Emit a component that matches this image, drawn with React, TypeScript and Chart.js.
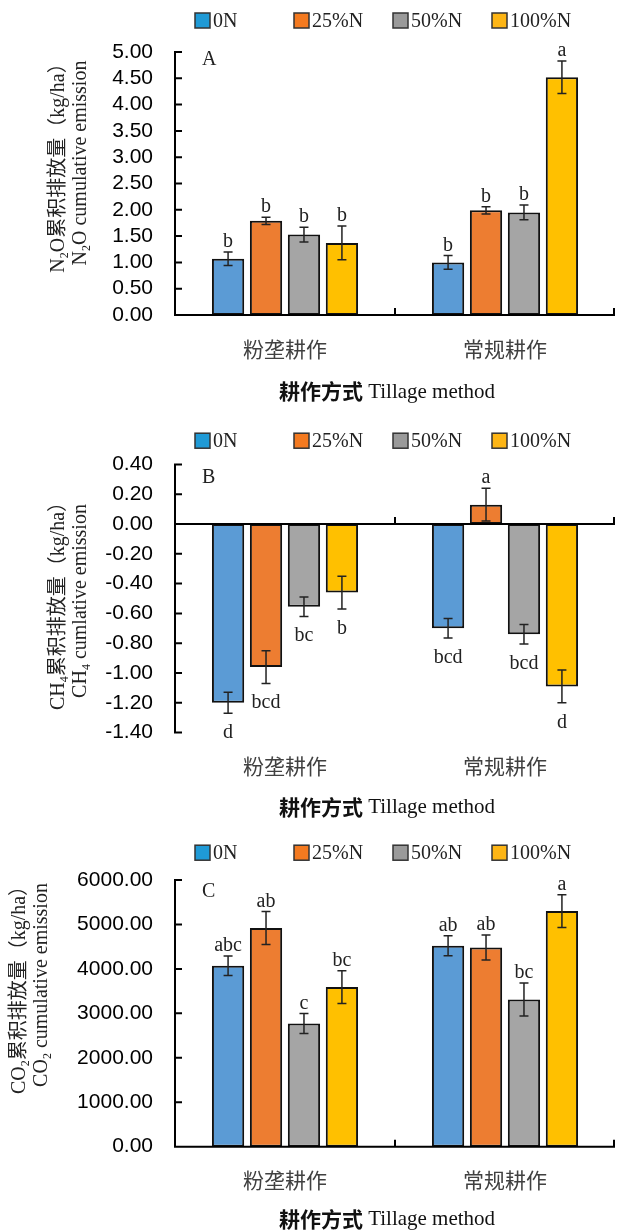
import React, { useEffect, useRef } from "react";
import { Chart, registerables } from "chart.js";

Chart.register(...registerables);

// ---------- data ----------
const categories = ["粉垄耕作", "常规耕作"];
const seriesNames = ["0N", "25%N", "50%N", "100%N"];

// rows = series (0N, 25%N, 50%N, 100%N), columns = categories
const n2oMeans = [[1.07, 1.0], [1.79, 1.99], [1.53, 1.95], [1.37, 4.52]];
const n2oErrors = [[0.13, 0.13], [0.07, 0.07], [0.14, 0.14], [0.32, 0.31]];
const n2oLetters = [["b", "b"], ["b", "b"], ["b", "b"], ["b", "a"]];
const n2oAxis = [0, 5, 0.5]; // min, max, step

const ch4Means = [[-1.2, -0.7], [-0.96, 0.13], [-0.555, -0.74], [-0.46, -1.09]];
const ch4Errors = [[0.07, 0.065], [0.11, 0.11], [0.065, 0.065], [0.11, 0.11]];
const ch4Letters = [["d", "bcd"], ["bcd", "a"], ["bc", "bcd"], ["b", "d"]];
const ch4Axis = [-1.4, 0.4, 0.2];

const co2Means = [[4070, 4520], [4920, 4480], [2770, 3310], [3590, 5300]];
const co2Errors = [[220, 225], [370, 280], [225, 370], [370, 370]];
const co2Letters = [["abc", "ab"], ["ab", "ab"], ["c", "bc"], ["bc", "a"]];
const co2Axis = [0, 6000, 1000];

const xTitleCn = "耕作方式";
const xTitleEn = " Tillage method";

// ---------- style ----------
const barColors = ["#5b9bd5", "#ed7d31", "#a5a5a5", "#ffc000"];
const legendColors = ["#1f9ad6", "#f47a20", "#9a9a9a", "#fdb515"];
const W = 617;
const H = 410;
const XH = 80;
const SERIF = "'Liberation Serif', 'Noto Sans CJK SC', serif";
const CJK = "'Noto Sans CJK SC', sans-serif";
const SANS = "'Liberation Sans', Arial, sans-serif";

type Part = { t: string; sub?: boolean };
type PanelCfg = {
  means: number[][];
  errors: number[][];
  letters: string[][];
  axis: number[];
  tag: string;
  title1: Part[];
  title2: Part[];
  plotTop: number;
  plotBottom: number;
  legendY: number;
  tagY: number;
  titleCY: number;
  titleX: [number, number];
  xTitleDy: number;
};

const panels: PanelCfg[] = [
  {
    means: n2oMeans, errors: n2oErrors, letters: n2oLetters, axis: n2oAxis, tag: "A",
    title1: [{ t: "N" }, { t: "2", sub: true }, { t: "O累积排放量（kg/ha）" }],
    title2: [{ t: "N" }, { t: "2", sub: true }, { t: "O cumulative emission" }],
    plotTop: 52, plotBottom: 315, legendY: 20.5, tagY: 60, titleCY: 163, titleX: [64, 86], xTitleDy: 76,
  },
  {
    means: ch4Means, errors: ch4Errors, letters: ch4Letters, axis: ch4Axis, tag: "B",
    title1: [{ t: "CH" }, { t: "4", sub: true }, { t: "累积排放量（kg/ha）" }],
    title2: [{ t: "CH" }, { t: "4", sub: true }, { t: " cumlative emission" }],
    plotTop: 54.4, plotBottom: 322.6, legendY: 30.7, tagY: 68, titleCY: 191, titleX: [64, 86], xTitleDy: 74,
  },
  {
    means: co2Means, errors: co2Errors, letters: co2Letters, axis: co2Axis, tag: "C",
    title1: [{ t: "CO" }, { t: "2", sub: true }, { t: "累积排放量（kg/ha）" }],
    title2: [{ t: "CO" }, { t: "2", sub: true }, { t: " cumulative emission" }],
    plotTop: 60, plotBottom: 326.7, legendY: 32.7, tagY: 72, titleCY: 165, titleX: [25, 47], xTitleDy: 72,
  },
];

function fmt(v: number) {
  const n = Math.abs(v) < 1e-9 ? 0 : v;
  return n.toFixed(2);
}

function drawParts(ctx: CanvasRenderingContext2D, parts: Part[], bx: number, cy: number) {
  const big = `20px ${SERIF}`;
  const small = `12px ${SERIF}`;
  let total = 0;
  const widths = parts.map((p) => {
    ctx.font = p.sub ? small : big;
    const w = ctx.measureText(p.t).width;
    total += w;
    return w;
  });
  ctx.save();
  ctx.translate(bx, cy);
  ctx.rotate(-Math.PI / 2);
  ctx.textBaseline = "alphabetic";
  ctx.textAlign = "left";
  ctx.fillStyle = "#222";
  let x = -total / 2;
  parts.forEach((p, i) => {
    ctx.font = p.sub ? small : big;
    ctx.fillText(p.t, x, p.sub ? 4 : 0);
    x += widths[i];
  });
  ctx.restore();
}

function overlay(cfg: PanelCfg) {
  return {
    id: "overlay" + cfg.tag,
    afterDatasetsDraw(chart: any) {
      const ctx: CanvasRenderingContext2D = chart.ctx;
      const { left, right, top, bottom } = chart.chartArea;
      const xs = chart.scales.x;
      const ys = chart.scales.y;
      ctx.save();
      // error bars + letters
      for (let d = 0; d < seriesNames.length; d++) {
        const meta = chart.getDatasetMeta(d);
        for (let i = 0; i < categories.length; i++) {
          const el = meta.data[i];
          const m = cfg.means[d][i];
          const e = cfg.errors[d][i];
          const yHi = ys.getPixelForValue(m + e);
          const yLo = ys.getPixelForValue(m - e);
          const bx = el.x;
          ctx.strokeStyle = "#222";
          ctx.lineWidth = 1.5;
          ctx.beginPath();
          ctx.moveTo(bx, yHi);
          ctx.lineTo(bx, yLo);
          ctx.moveTo(bx - 4.5, yHi);
          ctx.lineTo(bx + 4.5, yHi);
          ctx.moveTo(bx - 4.5, yLo);
          ctx.lineTo(bx + 4.5, yLo);
          ctx.stroke();
          ctx.font = `20px ${SERIF}`;
          ctx.fillStyle = "#222";
          ctx.textAlign = "center";
          ctx.textBaseline = "alphabetic";
          if (m >= 0) ctx.fillText(cfg.letters[d][i], bx, yHi - 5);
          else ctx.fillText(cfg.letters[d][i], bx, yLo + 25);
        }
      }
      // axes
      ctx.strokeStyle = "#000";
      ctx.lineWidth = 2;
      ctx.beginPath();
      ctx.moveTo(left, top - 1);
      ctx.lineTo(left, bottom + 1);
      ys.ticks.forEach((t: any) => {
        const py = ys.getPixelForValue(t.value);
        ctx.moveTo(left, py);
        ctx.lineTo(left + 7, py);
      });
      const zy = ys.getPixelForValue(0);
      ctx.moveTo(left, zy);
      ctx.lineTo(right, zy);
      const cw = xs.getPixelForValue(1) - xs.getPixelForValue(0);
      for (let i = 0; i < categories.length; i++) {
        const gx = Math.min(xs.getPixelForValue(i) + cw / 2, right - 1);
        ctx.moveTo(gx, zy);
        ctx.lineTo(gx, zy - 7);
      }
      ctx.stroke();
      ctx.restore();
    },
    afterDraw(chart: any) {
      const ctx: CanvasRenderingContext2D = chart.ctx;
      const { left, right, bottom } = chart.chartArea;
      ctx.save();
      // legend
      seriesNames.forEach((name, i) => {
        const bx = 195 + i * 99;
        const by = cfg.legendY - 7.5;
        ctx.fillStyle = legendColors[i];
        ctx.fillRect(bx, by, 15, 15);
        ctx.strokeStyle = "#333";
        ctx.lineWidth = 1.5;
        ctx.strokeRect(bx, by, 15, 15);
        ctx.font = `20px ${SERIF}`;
        ctx.fillStyle = "#222";
        ctx.textAlign = "left";
        ctx.textBaseline = "middle";
        ctx.fillText(name, bx + 18, cfg.legendY + 1);
      });
      // panel tag
      ctx.font = `20px ${SERIF}`;
      ctx.fillStyle = "#222";
      ctx.textAlign = "left";
      ctx.textBaseline = "middle";
      ctx.fillText(cfg.tag, left + 27, cfg.tagY);
      // y titles
      drawParts(ctx, cfg.title1, cfg.titleX[0], cfg.titleCY);
      drawParts(ctx, cfg.title2, cfg.titleX[1], cfg.titleCY);
      // x title
      const fCn = `bold 21px ${CJK}`;
      const fEn = `21px ${SERIF}`;
      ctx.font = fCn;
      const w1 = ctx.measureText(xTitleCn).width;
      ctx.font = fEn;
      const w2 = ctx.measureText(xTitleEn).width;
      const cx = (left + right) / 2 - 8;
      const ty = bottom + cfg.xTitleDy;
      let sx = cx - (w1 + w2) / 2;
      ctx.fillStyle = "#111";
      ctx.textBaseline = "middle";
      ctx.font = fCn;
      ctx.fillText(xTitleCn, sx, ty);
      ctx.font = fEn;
      ctx.fillText(xTitleEn, sx + w1, ty + 1);
      ctx.restore();
    },
  };
}

function PanelChart({ cfg }: { cfg: PanelCfg }) {
  const ref = useRef<HTMLCanvasElement>(null);
  useEffect(() => {
    const chart = new Chart(ref.current as HTMLCanvasElement, {
      type: "bar",
      data: {
        labels: categories,
        datasets: seriesNames.map((name, d) => ({
          label: name,
          data: cfg.means[d],
          backgroundColor: barColors[d],
          borderColor: "#111",
          borderWidth: 2,
          borderSkipped: false,
          categoryPercentage: 0.69,
          barPercentage: 0.85,
        })),
      },
      options: {
        responsive: false,
        animation: false,
        devicePixelRatio: 1,
        layout: {
          padding: { top: cfg.plotTop, bottom: H - cfg.plotBottom - XH, left: 0, right: 2 },
        },
        plugins: {
          legend: { display: false },
          tooltip: { enabled: false },
          title: { display: false },
        },
        scales: {
          x: {
            grid: { display: false, drawTicks: false },
            border: { display: false },
            ticks: {
              font: { family: CJK, size: 21, lineHeight: 1.2 },
              color: "#404040",
              padding: 21,
            },
            afterFit: (s: any) => {
              s.height = XH;
            },
          },
          y: {
            min: cfg.axis[0],
            max: cfg.axis[1],
            grid: { display: false, drawTicks: false },
            border: { display: false },
            ticks: {
              stepSize: cfg.axis[2],
              autoSkip: false,
              font: { family: SANS, size: 21, lineHeight: 1 },
              color: "#000",
              padding: 22,
              callback: (v: any) => fmt(Number(v)),
            },
            afterFit: (s: any) => {
              s.width = 175;
            },
          },
        },
      },
      plugins: [overlay(cfg)],
    } as any);
    return () => chart.destroy();
  }, [cfg]);
  return <canvas ref={ref} width={W} height={H} style={{ display: "block", width: W, height: H }} />;
}

export default function App() {
  useEffect(() => {
    document.body.style.margin = "0";
  }, []);
  return (
    <div style={{ width: W, background: "#fff" }}>
      {panels.map((p) => (
        <PanelChart key={p.tag} cfg={p} />
      ))}
    </div>
  );
}
